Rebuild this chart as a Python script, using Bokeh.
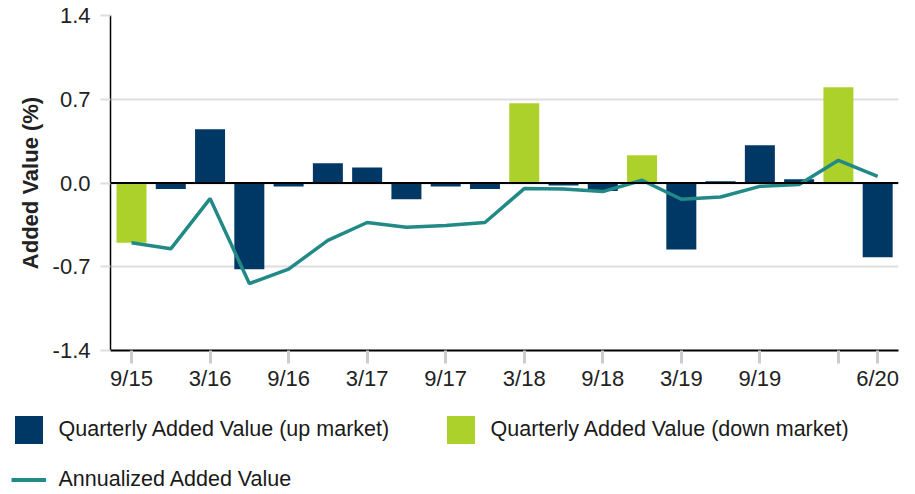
from bokeh.plotting import figure
from bokeh.models import ColumnDataSource, FixedTicker, Span, Legend, LegendItem, Range1d
from bokeh.embed import file_html
from bokeh.resources import INLINE

# ---- data ----
quarters = ["9/15", "12/15", "3/16", "6/16", "9/16", "12/16", "3/17", "6/17", "9/17", "12/17",
            "3/18", "6/18", "9/18", "12/18", "3/19", "6/19", "9/19", "12/19", "3/20", "6/20"]
quarterly_added_value = [-0.50, -0.05, 0.45, -0.72, -0.03, 0.165, 0.13, -0.135, -0.03, -0.05,
                         0.667, -0.02, -0.067, 0.232, -0.555, 0.014, 0.315, 0.031, 0.80, -0.62]
market = ["down", "up", "up", "up", "up", "up", "up", "up", "up", "up",
          "down", "up", "up", "down", "up", "up", "up", "up", "down", "up"]
annualized_added_value = [-0.50, -0.55, -0.13, -0.84, -0.72, -0.48, -0.33, -0.37, -0.355, -0.33,
                          -0.047, -0.05, -0.072, 0.023, -0.136, -0.117, -0.028, -0.013, 0.19, 0.056]
tick_quarters = ["9/15", "3/16", "9/16", "3/17", "9/17", "3/18", "9/18", "3/19", "9/19", "3/20", "6/20"]
tick_labels = ["9/15", "3/16", "9/16", "3/17", "9/17", "3/18", "9/18", "3/19", "9/19", "", "6/20"]
y_ticks = [-1.4, -0.7, 0.0, 0.7, 1.4]
y_tick_labels = ["-1.4", "-0.7", "0.0", "0.7", "1.4"]
series_labels = ["Quarterly Added Value (up market)",
                 "Quarterly Added Value (down market)",
                 "Annualized Added Value"]

NAVY = "#003865"
GREEN = "#add12b"
TEAL = "#228a86"
FONT = "Liberation Sans"

xs = list(range(len(quarters)))
up_src = ColumnDataSource(dict(
    x=[i for i in xs if market[i] == "up"],
    top=[quarterly_added_value[i] for i in xs if market[i] == "up"]))
down_src = ColumnDataSource(dict(
    x=[i for i in xs if market[i] == "down"],
    top=[quarterly_added_value[i] for i in xs if market[i] == "down"]))
line_src = ColumnDataSource(dict(x=xs, y=annualized_added_value))

# ---- main chart ----
p = figure(width=915, height=395, output_backend="svg", toolbar_location=None,
           x_range=Range1d(-0.535, 19.53), y_range=Range1d(-1.4, 1.4),
           min_border_left=110, min_border_right=17, min_border_top=15, min_border_bottom=45)
p.outline_line_color = None

p.vbar(x="x", top="top", bottom=0, width=0.764, source=up_src,
       fill_color=NAVY, line_color=None)
p.vbar(x="x", top="top", bottom=0, width=0.764, source=down_src,
       fill_color=GREEN, line_color=None)
p.line(x="x", y="y", source=line_src, line_color=TEAL, line_width=3.5)

p.add_layout(Span(location=0, dimension="width", line_color="black", line_width=2))

p.xgrid.visible = False
p.ygrid.ticker = FixedTicker(ticks=y_ticks)
p.ygrid.grid_line_color = "#dedede"
p.ygrid.grid_line_width = 2

ya = p.yaxis[0]
ya.ticker = FixedTicker(ticks=y_ticks)
ya.major_label_overrides = {t: l for t, l in zip(y_ticks, y_tick_labels)}
ya.axis_line_color = "black"
ya.axis_line_width = 1.5
ya.major_tick_out = 10
ya.major_tick_in = 0
ya.major_tick_line_color = "#dedede"
ya.major_tick_line_width = 2
ya.minor_tick_line_color = None
ya.major_label_text_font = FONT
ya.major_label_text_font_size = "22px"
ya.major_label_text_color = "#222222"
ya.major_label_standoff = 10
ya.axis_label = "Added Value (%)"
ya.axis_label_text_font = FONT
ya.axis_label_text_font_size = "22px"
ya.axis_label_text_font_style = "bold"
ya.axis_label_text_color = "#222222"
ya.axis_label_standoff = 7

xa = p.xaxis[0]
x_tick_pos = [quarters.index(q) for q in tick_quarters]
xa.ticker = FixedTicker(ticks=x_tick_pos)
xa.major_label_overrides = {t: l for t, l in zip(x_tick_pos, tick_labels)}
xa.axis_line_color = "black"
xa.axis_line_width = 2
xa.major_tick_out = 13
xa.major_tick_in = 0
xa.major_tick_line_color = "#c9cdd1"
xa.major_tick_line_width = 3
xa.minor_tick_line_color = None
xa.major_label_text_font = FONT
xa.major_label_text_font_size = "22px"
xa.major_label_text_color = "#222222"
xa.major_label_standoff = 2

# ---- legend strip (same series; its ranges keep the marks out of view) ----
lf = figure(width=915, height=99, output_backend="svg", toolbar_location=None,
            x_range=Range1d(100, 101), y_range=Range1d(100, 101),
            x_axis_location=None, y_axis_location=None,
            min_border_left=0, min_border_right=0, min_border_top=0, min_border_bottom=0)
lf.outline_line_color = None
lf.xgrid.visible = False
lf.ygrid.visible = False
lg_up = lf.vbar(x="x", top="top", bottom=0, width=0.764, source=up_src,
                fill_color=NAVY, line_color=None)
lg_down = lf.vbar(x="x", top="top", bottom=0, width=0.764, source=down_src,
                  fill_color=GREEN, line_color=None)
lg_line = lf.line(x="x", y="y", source=line_src, line_color=TEAL, line_width=4)

legend = Legend(
    items=[LegendItem(label=series_labels[0], renderers=[lg_up]),
           LegendItem(label=series_labels[1], renderers=[lg_down]),
           LegendItem(label=series_labels[2], renderers=[lg_line])],
    location=(10.5, -2.5), orientation="horizontal", ncols=2,
    glyph_width=35, glyph_height=35, label_height=35, label_width=369,
    label_standoff=13, spacing=15, padding=0, margin=0,
    border_line_color=None, background_fill_alpha=0,
    label_text_font=FONT, label_text_font_size="21.5px", label_text_color="#1a1a1a")
lf.add_layout(legend)

open("out.html", "w").write(file_html([p, lf], INLINE))
